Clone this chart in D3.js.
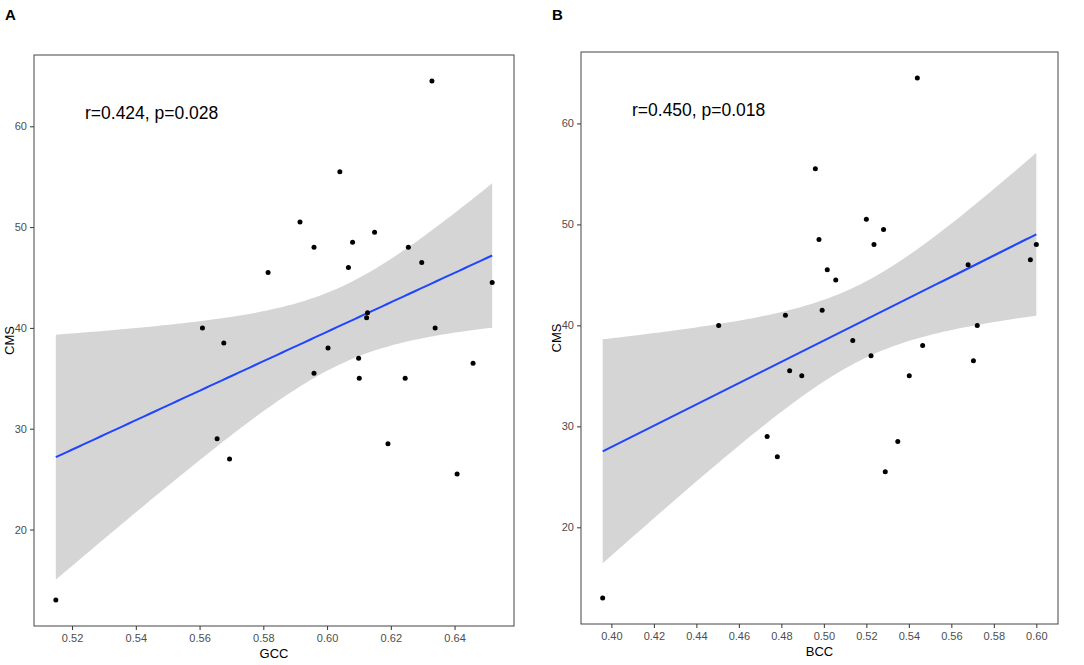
<!DOCTYPE html>
<html>
<head>
<meta charset="utf-8">
<script src="https://cdn.jsdelivr.net/npm/d3@7"></script>
<style>
  body { margin: 0; background: #fff; }
  svg { display: block; font-family: "Liberation Sans", Arial, sans-serif; }
</style>
</head>
<body>
<svg id="chart" width="1084" height="665"></svg>
<script>
// panel A: GCC vs CMS
const gccX = [0.6329, 0.6040, 0.5915, 0.5959, 0.6080, 0.6149, 0.5815, 0.6067, 0.6255,
              0.6297, 0.6518, 0.6127, 0.6124, 0.5609, 0.6339, 0.5676, 0.6003, 0.5959,
              0.6099, 0.6101, 0.6245, 0.6458, 0.5655, 0.5694, 0.6191, 0.6408, 0.5149];
const gccCms = [64.5, 55.5, 50.5, 48.0, 48.5, 49.5, 45.5, 46.0, 48.0,
                46.5, 44.5, 41.5, 41.0, 40.0, 40.0, 38.5, 38.0, 35.5,
                37.0, 35.0, 35.0, 36.5, 29.0, 27.0, 28.5, 25.5, 13.0];

// panel B: BCC vs CMS
const bccX = [0.5440, 0.4960, 0.5200, 0.5281, 0.4977, 0.5236, 0.5016, 0.5056, 0.5679,
              0.6000, 0.5972, 0.4992, 0.4819, 0.4505, 0.5722, 0.5136, 0.5222, 0.5465,
              0.5704, 0.4839, 0.4896, 0.5402, 0.4733, 0.4781, 0.5348, 0.5289, 0.3959];
const bccCms = [64.5, 55.5, 50.5, 49.5, 48.5, 48.0, 45.5, 44.5, 46.0,
                48.0, 46.5, 41.5, 41.0, 40.0, 40.0, 38.5, 37.0, 38.0,
                36.5, 35.5, 35.0, 35.0, 29.0, 27.0, 28.5, 25.5, 13.0];

const xTicksA = [0.52, 0.54, 0.56, 0.58, 0.60, 0.62, 0.64];
const xTicksB = [0.40, 0.42, 0.44, 0.46, 0.48, 0.50, 0.52, 0.54, 0.56, 0.58, 0.60];
const yTicks = [20, 30, 40, 50, 60];

const svg = d3.select("#chart");

// ggplot-style 5% expansion
function expand(arr) {
  const [lo, hi] = d3.extent(arr);
  const pad = (hi - lo) * 0.05;
  return [lo - pad, hi + pad];
}

// linear fit with 95% confidence band, like geom_smooth(method = "lm")
function lmBand(xs, ys) {
  const n = xs.length;
  const mx = d3.mean(xs), my = d3.mean(ys);
  let sxx = 0, sxy = 0;
  for (let i = 0; i < n; i++) {
    sxx += (xs[i] - mx) ** 2;
    sxy += (xs[i] - mx) * (ys[i] - my);
  }
  const b = sxy / sxx, a = my - b * mx;
  let sse = 0;
  for (let i = 0; i < n; i++) sse += (ys[i] - a - b * xs[i]) ** 2;
  const s = Math.sqrt(sse / (n - 2));
  const t = 2.0595; // qt(0.975, 25)
  const [x0, x1] = d3.extent(xs);
  return d3.range(80).map(k => {
    const x = x0 + (x1 - x0) * k / 79;
    const fit = a + b * x;
    const se = s * Math.sqrt(1 / n + (x - mx) ** 2 / sxx);
    return { x, fit, lo: fit - t * se, hi: fit + t * se };
  });
}

function panel(opt) {
  const { left, right, top, bottom, xs, ys, xTicks, xTitle, label, note } = opt;

  const x = d3.scaleLinear().domain(expand(xs)).range([left, right]);
  const y = d3.scaleLinear().domain(expand(ys)).range([bottom, top]);

  const g = svg.append("g");

  const band = lmBand(xs, ys);
  g.append("path")
      .datum(band)
      .attr("fill", "#d5d5d5")
      .attr("d", d3.area().x(d => x(d.x)).y0(d => y(d.lo)).y1(d => y(d.hi)));

  g.append("path")
      .datum(band)
      .attr("fill", "none")
      .attr("stroke", "#1f45ff")
      .attr("stroke-width", 2)
      .attr("d", d3.line().x(d => x(d.x)).y(d => y(d.fit)));

  g.selectAll("circle")
    .data(xs.map((v, i) => [v, ys[i]]))
    .enter().append("circle")
      .attr("cx", d => x(d[0]))
      .attr("cy", d => y(d[1]))
      .attr("r", 2.5)
      .attr("fill", "#000");

  // axes
  const xAxis = g.append("g")
      .attr("transform", `translate(0,${bottom})`)
      .call(d3.axisBottom(x).tickValues(xTicks).tickFormat(d3.format(".2f")).tickSize(4).tickPadding(4));
  const yAxis = g.append("g")
      .attr("transform", `translate(${left},0)`)
      .call(d3.axisLeft(y).tickValues(yTicks).tickSize(4).tickPadding(3));
  [xAxis, yAxis].forEach(ax => {
    ax.select(".domain").remove();
    ax.selectAll("line").attr("stroke", "#333");
    ax.selectAll("text").attr("fill", "#4d4d4d").style("font-size", "11px")
      .style("font-family", "'Liberation Sans', Arial, sans-serif");
  });

  g.append("rect")
      .attr("x", left).attr("y", top)
      .attr("width", right - left).attr("height", bottom - top)
      .attr("fill", "none")
      .attr("stroke", "#444")
      .attr("stroke-width", 1);

  g.append("text")
      .attr("x", (left + right) / 2)
      .attr("y", bottom + 32)
      .attr("text-anchor", "middle")
      .style("font-size", "13px")
      .text(xTitle);

  g.append("text")
      .attr("transform", `translate(${left - 20},${(top + bottom) / 2}) rotate(-90)`)
      .attr("text-anchor", "middle")
      .style("font-size", "13px")
      .text("CMS");

  g.append("text")
      .attr("x", left + 51)
      .attr("y", y(60) - 7)
      .style("font-size", "17.5px")
      .text(note);

  g.append("text")
      .attr("x", left - 29)
      .attr("y", 20)
      .style("font-size", "15px")
      .style("font-weight", "bold")
      .text(label);
}

panel({ left: 34, right: 514, top: 55, bottom: 626, xs: gccX, ys: gccCms,
        xTicks: xTicksA, xTitle: "GCC", label: "A", note: "r=0.424, p=0.028" });
panel({ left: 581, right: 1058, top: 52, bottom: 624, xs: bccX, ys: bccCms,
        xTicks: xTicksB, xTitle: "BCC", label: "B", note: "r=0.450, p=0.018" });
</script>
</body>
</html>
